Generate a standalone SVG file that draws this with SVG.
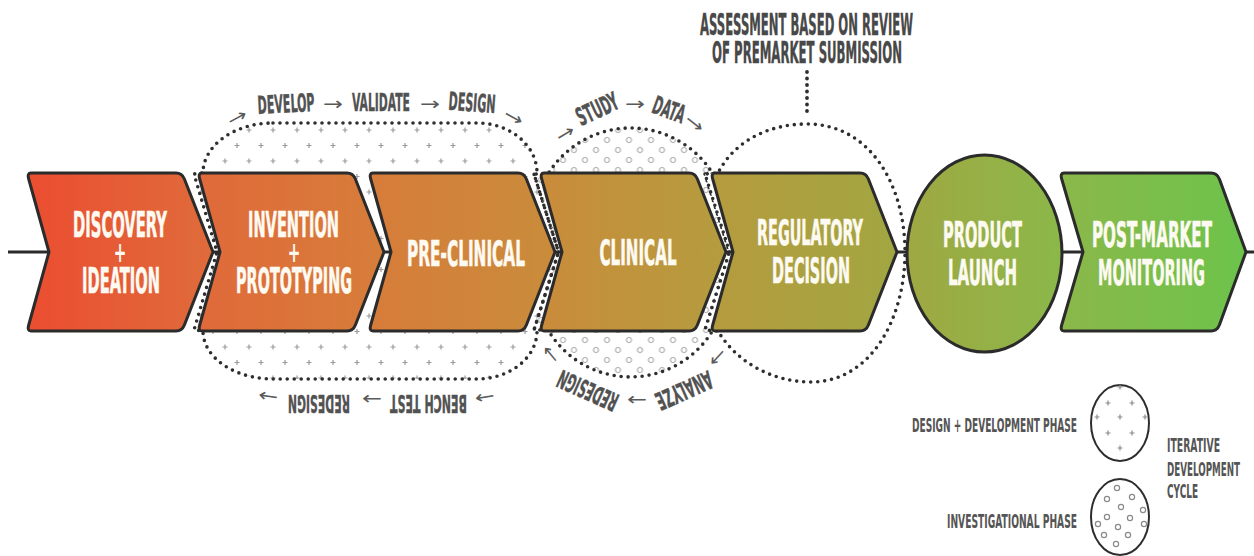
<svg xmlns="http://www.w3.org/2000/svg" width="1254" height="556" viewBox="0 0 1254 556">
  <defs>
    <!-- one continuous colour ramp shared by every stage, red-orange to green -->
    <linearGradient id="stageFill" gradientUnits="userSpaceOnUse" x1="27" y1="0" x2="1246" y2="0">
      <stop offset="0" stop-color="#eb4d30"/>
      <stop offset="0.14" stop-color="#e0693a"/>
      <stop offset="0.28" stop-color="#d77c3a"/>
      <stop offset="0.42" stop-color="#ca8b3b"/>
      <stop offset="0.56" stop-color="#b69b3e"/>
      <stop offset="0.7" stop-color="#a3a541"/>
      <stop offset="0.85" stop-color="#8bb84a"/>
      <stop offset="1" stop-color="#6cc34b"/>
    </linearGradient>
    <!-- staggered plus marks for the design + development phase -->
    <pattern id="plusDots" patternUnits="userSpaceOnUse" x="267" y="126" width="24" height="31">
      <path d="M3.5,4 h5 M6,1.5 v5 M15.5,19.5 h5 M18,17 v5" stroke="#9a9a9a" stroke-width="1.2" fill="none"/>
    </pattern>
    <!-- staggered small rings for the investigational phase -->
    <pattern id="ringDots" patternUnits="userSpaceOnUse" x="634.5" y="125" width="22" height="20">
      <circle cx="5.5" cy="5" r="2.6" fill="none" stroke="#9a9a9a" stroke-width="1"/>
      <circle cx="16.5" cy="15" r="2.6" fill="none" stroke="#9a9a9a" stroke-width="1"/>
    </pattern>
  </defs>
  <style>
    .stage { fill: url(#stageFill); stroke: #2b2b2b; stroke-width: 3; stroke-linejoin: round; }
    .phase { stroke: #2e2e2e; stroke-width: 3.6; stroke-dasharray: 0 7; stroke-linecap: round; }
    .flow { stroke: #2b2b2b; stroke-width: 3; fill: none; }
    .lead { stroke: #2e2e2e; stroke-width: 3.8; stroke-dasharray: 0 6.5; stroke-linecap: round; fill: none; }
    /* all lettering is a condensed face squeezed to half width by its transform */
    .title { font-family: "Liberation Sans Narrow", "DejaVu Sans Condensed", "Liberation Sans", sans-serif; font-weight: 700; font-size: 35px; fill: #fdfaf2; stroke: #fdfaf2; stroke-width: 0.6; text-anchor: middle; }
    .plus { font-family: "Liberation Sans Narrow", "DejaVu Sans Condensed", "Liberation Sans", sans-serif; font-weight: 700; font-size: 28px; fill: #fdfaf2; text-anchor: middle; }
    .note { font-family: "Liberation Sans Narrow", "DejaVu Sans Condensed", "Liberation Sans", sans-serif; font-weight: 700; font-size: 25px; fill: #525252; stroke: #525252; stroke-width: 0.4; text-anchor: middle; }
    .head { font-family: "Liberation Sans Narrow", "DejaVu Sans Condensed", "Liberation Sans", sans-serif; font-weight: 700; font-size: 30px; fill: #484848; stroke: #484848; stroke-width: 0.4; text-anchor: middle; }
    .arr { font-family: "DejaVu Sans", sans-serif; font-size: 18px; fill: #5a5a5a; text-anchor: middle; dominant-baseline: central; }
    .key { font-family: "Liberation Sans Narrow", "DejaVu Sans Condensed", "Liberation Sans", sans-serif; font-weight: 700; font-size: 19px; fill: #555555; }
    .keyring { fill: #ffffff; stroke: #2e2e2e; stroke-width: 2; }
    .mark { stroke: #8a8a8a; stroke-width: 1.2; fill: none; }
  </style>

  <!-- iterative phase outlines (drawn beneath the stages) -->
  <g id="phase-design-development">
    <path class="phase" fill="url(#plusDots)" d="M273,123 H477 A60,50 0 0,1 537,173 L534,174 L558.5,252 L534,330 L537,331 A60,48 0 0,1 477,379 H273 A70,48 0 0,1 203,331 L194,330 L217,252 L194,174 L203,173 A70,50 0 0,1 273,123 Z"/>
  </g>
  <g id="phase-investigational">
    <path class="phase" fill="url(#ringDots)" d="M558.5,252 L534,174 L548,174 A97,97 0 0,1 713,174 L705,174 L729.5,252 L705,330 L713,330 A96,96 0 0,1 548,330 L534,330 Z"/>
  </g>
  <g id="phase-regulatory-review">
    <path class="phase" fill="#ffffff" d="M729.5,252 L705,174 L718,173 C735,140 770,124 807,124 C870,124 905,185 905,252 C905,320 870,382 811,382 C770,382 735,360 718,331 L705,330 Z"/>
  </g>

  <!-- connectors: the main process line and the annotation leader -->
  <g id="connectors">
    <line class="flow" x1="8" y1="252" x2="1254" y2="252"/>
    <line class="lead" x1="807" y1="72" x2="807" y2="112"/>
  </g>

  <!-- process stages -->
  <g id="stage-discovery">
    <path class="stage" d="M31,173 H176 Q182,173 184.4,179 L213,252 L184.4,325 Q182,331 176,331 H31 Q27,331 28.7,325 L49,252 L28.7,179 Q27,173 31,173 Z"/>
    <text class="title" transform="translate(120,237) scale(0.5,1)" textLength="188" lengthAdjust="spacingAndGlyphs">DISCOVERY</text>
    <text class="plus" transform="translate(120,262) scale(0.6,1)">+</text>
    <text class="title" transform="translate(121,293) scale(0.5,1)" textLength="156" lengthAdjust="spacingAndGlyphs">IDEATION</text>
  </g>
  <g id="stage-invention">
    <path class="stage" d="M202,173 H347 Q353,173 355.4,179 L384,252 L355.4,325 Q353,331 347,331 H202 Q198,331 199.7,325 L220,252 L199.7,179 Q198,173 202,173 Z"/>
    <text class="title" transform="translate(293.5,237) scale(0.5,1)" textLength="182" lengthAdjust="spacingAndGlyphs">INVENTION</text>
    <text class="plus" transform="translate(294,262) scale(0.6,1)">+</text>
    <text class="title" transform="translate(294,293) scale(0.5,1)" textLength="232" lengthAdjust="spacingAndGlyphs">PROTOTYPING</text>
  </g>
  <g id="stage-preclinical">
    <path class="stage" d="M373,173 H518 Q524,173 526.4,179 L555,252 L526.4,325 Q524,331 518,331 H373 Q369,331 370.7,325 L391,252 L370.7,179 Q369,173 373,173 Z"/>
    <text class="title" transform="translate(466,266) scale(0.5,1)" textLength="236" lengthAdjust="spacingAndGlyphs">PRE-CLINICAL</text>
  </g>
  <g id="stage-clinical">
    <path class="stage" d="M544,173 H689 Q695,173 697.4,179 L726,252 L697.4,325 Q695,331 689,331 H544 Q540,331 541.7,325 L562,252 L541.7,179 Q540,173 544,173 Z"/>
    <text class="title" transform="translate(638,265) scale(0.5,1)" textLength="154" lengthAdjust="spacingAndGlyphs">CLINICAL</text>
  </g>
  <g id="stage-regulatory">
    <path class="stage" d="M715,173 H860 Q866,173 868.4,179 L897,252 L868.4,325 Q866,331 860,331 H715 Q711,331 712.7,325 L733,252 L712.7,179 Q711,173 715,173 Z"/>
    <text class="title" transform="translate(810,245) scale(0.5,1)" textLength="212" lengthAdjust="spacingAndGlyphs">REGULATORY</text>
    <text class="title" transform="translate(811,283) scale(0.5,1)" textLength="156" lengthAdjust="spacingAndGlyphs">DECISION</text>
  </g>
  <g id="stage-launch">
    <ellipse class="stage" cx="984.5" cy="253.5" rx="77.5" ry="98.5"/>
    <text class="title" transform="translate(982.5,247) scale(0.5,1)" textLength="158" lengthAdjust="spacingAndGlyphs">PRODUCT</text>
    <text class="title" transform="translate(982.5,285) scale(0.5,1)" textLength="138" lengthAdjust="spacingAndGlyphs">LAUNCH</text>
  </g>
  <g id="stage-postmarket">
    <path class="stage" d="M1064,173 H1211 Q1217,173 1219.4,179 L1246,252 L1219.4,325 Q1217,331 1211,331 H1064 Q1060,331 1061.7,325 L1083,252 L1061.7,179 Q1060,173 1064,173 Z"/>
    <text class="title" transform="translate(1152,247) scale(0.5,1)" textLength="240" lengthAdjust="spacingAndGlyphs">POST-MARKET</text>
    <text class="title" transform="translate(1151.5,285) scale(0.5,1)" textLength="214" lengthAdjust="spacingAndGlyphs">MONITORING</text>
  </g>

  <!-- cycle captions around the design + development phase -->
  <g id="cycle-design">
    <text class="arr" transform="translate(237,117) rotate(-28)" textLength="20" lengthAdjust="spacingAndGlyphs">→</text>
    <text class="note" transform="translate(286.5,112.5) rotate(-3) scale(0.5,1)" textLength="114" lengthAdjust="spacingAndGlyphs">DEVELOP</text>
    <text class="arr" transform="translate(333,103)" textLength="20" lengthAdjust="spacingAndGlyphs">→</text>
    <text class="note" transform="translate(381,110.5) scale(0.5,1)" textLength="116" lengthAdjust="spacingAndGlyphs">VALIDATE</text>
    <text class="arr" transform="translate(430,103)" textLength="20" lengthAdjust="spacingAndGlyphs">→</text>
    <text class="note" transform="translate(471.5,111.5) rotate(4) scale(0.5,1)" textLength="94" lengthAdjust="spacingAndGlyphs">DESIGN</text>
    <text class="arr" transform="translate(514,117) rotate(29)" textLength="20" lengthAdjust="spacingAndGlyphs">→</text>
    <text class="arr" transform="translate(485,398) rotate(171)" textLength="20" lengthAdjust="spacingAndGlyphs">→</text>
    <text class="note" transform="translate(428.5,395) rotate(180) scale(0.5,1)" textLength="154" lengthAdjust="spacingAndGlyphs">BENCH TEST</text>
    <text class="arr" transform="translate(372,399) rotate(180)" textLength="20" lengthAdjust="spacingAndGlyphs">→</text>
    <text class="note" transform="translate(319,395) rotate(180) scale(0.5,1)" textLength="124" lengthAdjust="spacingAndGlyphs">REDESIGN</text>
    <text class="arr" transform="translate(268,397) rotate(189)" textLength="20" lengthAdjust="spacingAndGlyphs">→</text>
  </g>

  <!-- cycle captions around the investigational phase -->
  <g id="cycle-clinical">
    <text class="arr" transform="translate(565,133) rotate(-31)" textLength="19" lengthAdjust="spacingAndGlyphs">→</text>
    <text class="note" transform="translate(601,117) rotate(-25) scale(0.5,1)" textLength="88" lengthAdjust="spacingAndGlyphs">STUDY</text>
    <text class="arr" transform="translate(635,103)" textLength="20" lengthAdjust="spacingAndGlyphs">→</text>
    <text class="note" transform="translate(666,118) rotate(20) scale(0.5,1)" textLength="66" lengthAdjust="spacingAndGlyphs">DATA</text>
    <text class="arr" transform="translate(695,123) rotate(38)" textLength="20" lengthAdjust="spacingAndGlyphs">→</text>
    <text class="arr" transform="translate(718,358) rotate(133)" textLength="19" lengthAdjust="spacingAndGlyphs">→</text>
    <text class="note" transform="translate(680.7,382.5) rotate(156) scale(0.5,1)" textLength="120" lengthAdjust="spacingAndGlyphs">ANALYZE</text>
    <text class="arr" transform="translate(637,400) rotate(180)" textLength="20" lengthAdjust="spacingAndGlyphs">→</text>
    <text class="note" transform="translate(591.3,382.5) rotate(204) scale(0.5,1)" textLength="128" lengthAdjust="spacingAndGlyphs">REDESIGN</text>
    <text class="arr" transform="translate(550,355) rotate(230)" textLength="19" lengthAdjust="spacingAndGlyphs">→</text>
  </g>

  <!-- regulatory annotation -->
  <g id="note-assessment">
    <text class="head" transform="translate(806.5,35) scale(0.5,1)" textLength="426" lengthAdjust="spacingAndGlyphs">ASSESSMENT BASED ON REVIEW</text>
    <text class="head" transform="translate(807,63) scale(0.5,1)" textLength="380" lengthAdjust="spacingAndGlyphs">OF PREMARKET SUBMISSION</text>
  </g>

  <!-- legend -->
  <g id="legend-design">
    <ellipse class="keyring" cx="1120" cy="423" rx="29" ry="38"/>
    <path class="mark" d="M1105.5,403 h5 M1108,400.5 v5 M1129.5,403 h5 M1132,400.5 v5 M1094.5,417 h5 M1097,414.5 v5 M1117.5,417 h5 M1120,414.5 v5 M1142.5,417 h5 M1145,414.5 v5 M1105.5,433 h5 M1108,430.5 v5 M1129.5,433 h5 M1132,430.5 v5 M1117.5,448 h5 M1120,445.5 v5 M1117.5,387 h5 M1120,384.5 v5"/>
    <text class="key" transform="translate(912,432) scale(0.5,1)" textLength="330" lengthAdjust="spacingAndGlyphs">DESIGN + DEVELOPMENT PHASE</text>
  </g>
  <g id="legend-investigational">
    <ellipse class="keyring" cx="1120" cy="517" rx="29" ry="38"/>
    <g class="mark">
      <circle cx="1117" cy="488" r="2.6"/><circle cx="1107" cy="499" r="2.6"/><circle cx="1132" cy="497" r="2.6"/>
      <circle cx="1121" cy="507" r="2.6"/><circle cx="1143" cy="510" r="2.6"/><circle cx="1107" cy="517" r="2.6"/>
      <circle cx="1130" cy="518" r="2.6"/><circle cx="1118" cy="527" r="2.6"/><circle cx="1144" cy="524" r="2.6"/>
      <circle cx="1104" cy="535" r="2.6"/><circle cx="1128" cy="535" r="2.6"/><circle cx="1116" cy="544" r="2.6"/>
      <circle cx="1098" cy="524" r="2.6"/>
    </g>
    <text class="key" transform="translate(947,528) scale(0.5,1)" textLength="260" lengthAdjust="spacingAndGlyphs">INVESTIGATIONAL PHASE</text>
  </g>
  <g id="legend-cycle">
    <text class="key" transform="translate(1167,452) scale(0.5,1)" textLength="106" lengthAdjust="spacingAndGlyphs">ITERATIVE</text>
    <text class="key" transform="translate(1167,476) scale(0.5,1)" textLength="146" lengthAdjust="spacingAndGlyphs">DEVELOPMENT</text>
    <text class="key" transform="translate(1167,498) scale(0.5,1)" textLength="62" lengthAdjust="spacingAndGlyphs">CYCLE</text>
  </g>
</svg>
